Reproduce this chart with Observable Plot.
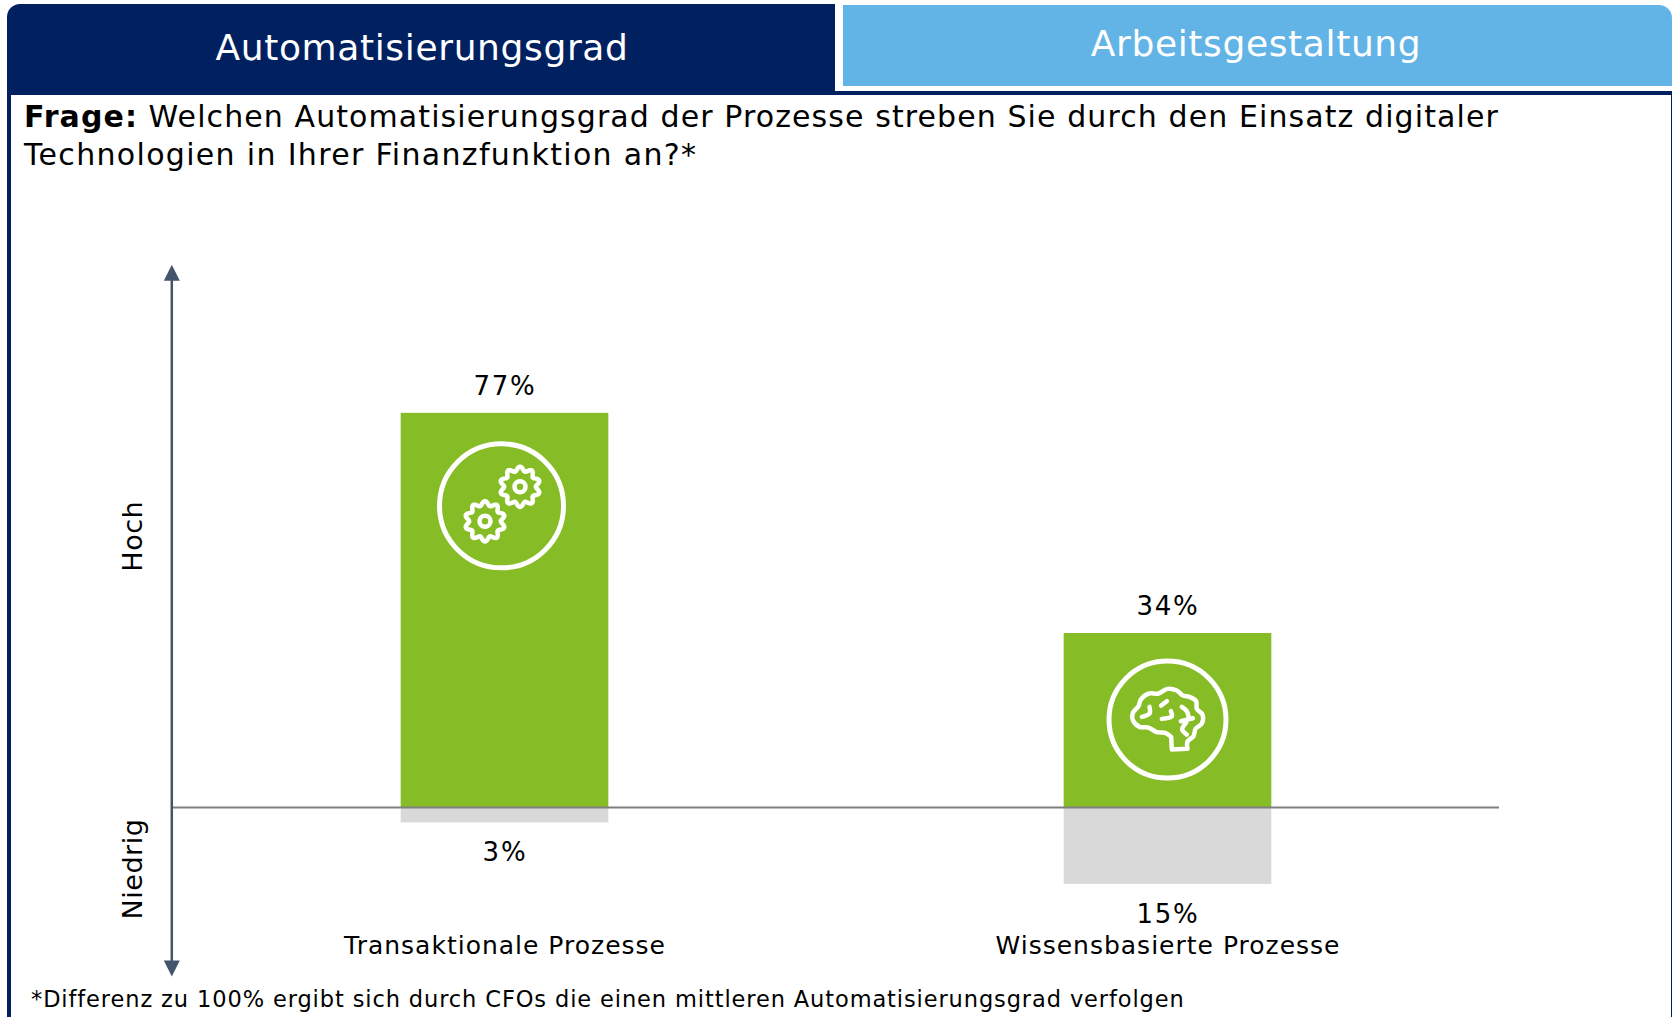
<!DOCTYPE html>
<html lang="de">
<head>
<meta charset="utf-8">
<script src="https://cdn.jsdelivr.net/npm/d3@7"></script>
<script src="https://cdn.jsdelivr.net/npm/@observablehq/plot@0.6"></script>
<style>
html,body{margin:0;padding:0;background:#fff;overflow:hidden}
body{width:1672px;height:1017px;position:relative;font-family:"DejaVu Sans",sans-serif;color:#000}
.abs{position:absolute;white-space:nowrap}
#chart{position:absolute;left:0;top:190px}
#chart svg{display:block;background:none}
.val text{letter-spacing:1.8px}
.cat text{letter-spacing:1px}
.axl text{letter-spacing:.55px}
</style>
</head>
<body>
<div class="abs" style="left:7px;top:4px;width:828px;height:91px;background:#002060;border-radius:13px 0 0 0"></div>
<div class="abs" style="left:843px;top:5px;width:829px;height:81px;background:#63b4e6;border-radius:0 13px 0 0"></div>
<div class="abs" style="left:835px;top:91px;width:837px;height:4px;background:#002060"></div>
<div class="abs" style="left:7px;top:95px;width:4px;height:922px;background:#002060"></div>
<div class="abs" style="left:1671px;top:95px;width:1px;height:922px;background:#002060"></div>
<div class="abs" id="tabA" style="left:7px;width:830px;top:25px;text-align:center;color:#fff;font-size:36px;line-height:46px;letter-spacing:.64px">Automatisierungsgrad</div>
<div class="abs" id="tabB" style="left:843px;width:826px;top:21px;text-align:center;color:#fff;font-size:36px;line-height:46px;letter-spacing:.63px">Arbeitsgestaltung</div>
<div class="abs" id="q1" style="left:24px;top:98px;font-size:30px;line-height:38px;letter-spacing:1.09px"><b>Frage:</b> Welchen Automatisierungsgrad der Prozesse streben Sie durch den Einsatz digitaler</div>
<div class="abs" id="q2" style="left:24px;top:136px;font-size:30px;line-height:38px;letter-spacing:1.32px">Technologien in Ihrer Finanzfunktion an?*</div>
<div id="chart"></div>
<div class="abs" id="fn" style="left:31px;top:985px;font-size:22.5px;line-height:28px;letter-spacing:.89px">*Differenz zu 100% ergibt sich durch CFOs die einen mittleren Automatisierungsgrad verfolgen</div>
<script>
const categories = ["Transaktionale Prozesse", "Wissensbasierte Prozesse"];
const categoryX = [0.5, 1.5];
const highValues = [77, 34];
const lowValues = [3, 15];
const highLabels = ["77%", "34%"];
const lowLabels = ["3%", "15%"];
const axisLabels = ["Hoch", "Niedrig"];
const axisLabelY = [53, -12];
const axisExtent = [106, -33];

const green = "#86bc25", grey = "#d9d9d9", slate = "#44546a";
const barHalf = 0.1566;
const rows = categories.map((c, i) => ({
  c, x: categoryX[i], high: highValues[i], low: lowValues[i],
  highLabel: highLabels[i], lowLabel: lowLabels[i]
}));

const headUp = {draw(ctx){ctx.moveTo(0,0);ctx.lineTo(8,16);ctx.lineTo(-8,16);ctx.closePath();}};
const headDown = {draw(ctx){ctx.moveTo(0,0);ctx.lineTo(8,-16);ctx.lineTo(-8,-16);ctx.closePath();}};
const gear = {draw(ctx){
  const n = 120;
  for (let i = 0; i <= n; i++) {
    const t = i / n * 2 * Math.PI, r = 18 + 2.2 * Math.cos(10 * t);
    const px = r * Math.sin(t), py = -r * Math.cos(t);
    i ? ctx.lineTo(px, py) : ctx.moveTo(px, py);
  }
  ctx.closePath();
}};
const scaleT = 1 / 3;
const ptz = ([a, b]) => [(a - 352) * scaleT, (b - 300) * scaleT];
const brainOutline = [[412,388],[412,366],[430,350],[436,328],[455,312],[457,285],[440,268],[438,245],[418,232],[398,228],[380,213],[352,208],[325,222],[295,222],[272,240],[265,260],[248,280],[248,302],[268,322],[295,324],[320,338],[345,340],[363,352],[365,390]].map(ptz);
const brainCurls = [
  [[275,292],[298,282],[298,262]],
  [[333,258],[350,245]],
  [[335,298],[365,290],[362,275]],
  [[395,262],[410,275],[415,290]],
  [[392,305],[428,296]],
  [[408,310],[396,330],[410,345]]
].map(c => c.map(ptz));
const brain = {draw(ctx){
  const smooth = d3.line().curve(d3.curveCatmullRom).context(ctx);
  smooth(brainOutline.slice(0, 23));
  ctx.lineTo(...brainOutline[23]);
  ctx.closePath();
  brainCurls.forEach(c => smooth(c));
}};

const font = {fill: "#000", fontFamily: "DejaVu Sans"};
const plot = Plot.plot({
  width: 1672, height: 795,
  marginTop: 0, marginBottom: 0, marginLeft: 173, marginRight: 173,
  style: {background: "none", overflow: "visible"},
  x: {domain: [0, 2], axis: null},
  y: {domain: [-34.75, 120.52], axis: null},
  marks: [
    Plot.rect(rows, {x1: d => d.x - barHalf, x2: d => d.x + barHalf, y1: 0, y2: "high", fill: green, inset: 0}),
    Plot.rect(rows, {x1: d => d.x - barHalf, x2: d => d.x + barHalf, y1: 0, y2: d => -d.low, fill: grey, inset: 0}),
    Plot.ruleY([0], {x1: 0, x2: 2, stroke: "#7f7f7f", strokeWidth: 2}),
    Plot.ruleX([0], {y1: axisExtent[0], y2: axisExtent[1], dx: -1.7, stroke: slate, strokeWidth: 2.5, insetTop: 8, insetBottom: 8}),
    Plot.dot([0], {x: 0, y: axisExtent[0], dx: -1.7, symbol: headUp, fill: slate, stroke: "none"}),
    Plot.dot([0], {x: 0, y: axisExtent[1], dx: -1.7, symbol: headDown, fill: slate, stroke: "none"}),
    Plot.text(rows, {x: "x", y: "high", text: "highLabel", dy: -27, fontSize: 26, className: "val", ...font}),
    Plot.text(rows, {x: "x", y: d => -d.low, text: "lowLabel", dy: 30, fontSize: 26, className: "val", ...font}),
    Plot.text(rows, {x: "x", y: -27, text: "c", fontSize: 25, className: "cat", ...font}),
    Plot.text(axisLabels, {x: 0, y: (d, i) => axisLabelY[i], text: d => d, rotate: -90, dx: -40, fontSize: 27, className: "axl", ...font}),
    // icons
    Plot.dot([rows[0]], {x: "x", y: d => d.high, dx: -3.5, dy: 92.5, r: 62, fill: "none", stroke: "#fff", strokeWidth: 5}),
    Plot.dot([rows[0]], {x: "x", y: d => d.high, dx: 15, dy: 73.5, symbol: gear, fill: "none", stroke: "#fff", strokeWidth: 4.5, strokeLinejoin: "round"}),
    Plot.dot([rows[0]], {x: "x", y: d => d.high, dx: 15, dy: 73.5, r: 5.5, fill: "none", stroke: "#fff", strokeWidth: 4.5}),
    Plot.dot([rows[0]], {x: "x", y: d => d.high, dx: -20, dy: 108, symbol: gear, fill: "none", stroke: "#fff", strokeWidth: 4.5, strokeLinejoin: "round"}),
    Plot.dot([rows[0]], {x: "x", y: d => d.high, dx: -20, dy: 108, r: 5.5, fill: "none", stroke: "#fff", strokeWidth: 4.5}),
    Plot.dot([rows[1]], {x: "x", y: d => d.high / 2, dx: -0.5, dy: -1, r: 58.5, fill: "none", stroke: "#fff", strokeWidth: 5}),
    Plot.dot([rows[1]], {x: "x", y: d => d.high / 2, dx: -0.5, dy: -1, symbol: brain, fill: "none", stroke: "#fff", strokeWidth: 4.5, strokeLinejoin: "round", strokeLinecap: "round"})
  ]
});
document.getElementById("chart").appendChild(plot);
</script>
</body>
</html>
